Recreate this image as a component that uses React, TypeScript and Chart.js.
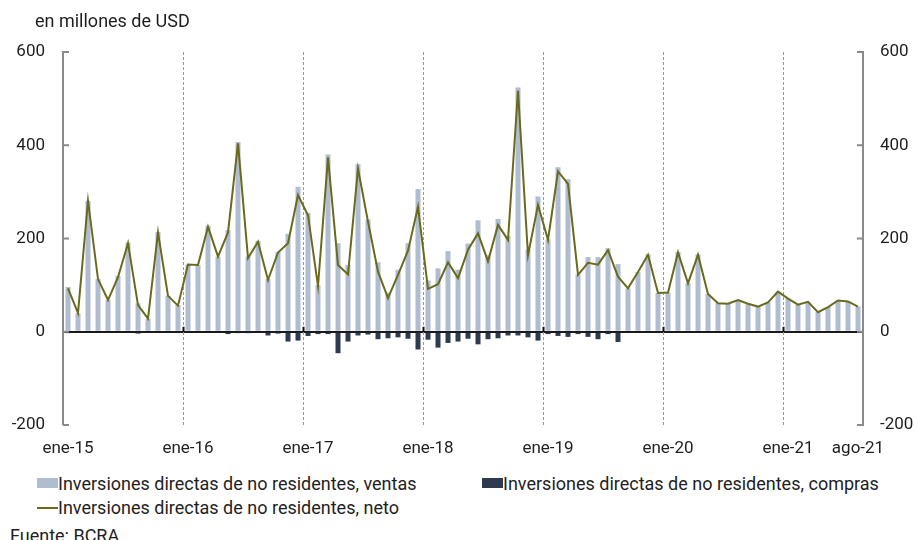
import React, { useEffect, useRef } from "react";
import { Chart, registerables } from "chart.js";

Chart.register(...registerables);

const months = ["ene", "feb", "mar", "abr", "may", "jun", "jul", "ago", "sep", "oct", "nov", "dic"];
const years = ["15", "16", "17", "18", "19", "20", "21"];
const monthCount = 80;

const ventas = [
  96, 40, 281, 113, 68, 120, 191, 61, 28, 214, 77, 57,
  144, 143, 227, 161, 218, 407, 161, 195, 113, 171, 210, 311,
  255, 100, 380, 190, 143, 359, 241, 149, 84, 133, 190, 306,
  110, 136, 173, 133, 189, 239, 164, 242, 205, 524, 176, 290,
  198, 353, 327, 123, 160, 160, 179, 145, 93, 128, 166, 83,
  84, 171, 104, 166, 81, 61, 60, 68, 60, 54, 63, 86,
  71, 58, 64, 42, 53, 67, 65, 54,
];

const compras = [
  -3, 0, 0, 0, 0, 0, 0, -4, 0, 0, 0, 0,
  0, 0, -2, 0, -5, -3, -3, -2, -8, -4, -21, -19,
  -9, -5, -5, -46, -21, -8, -6, -16, -14, -12, -15, -38,
  -17, -34, -24, -21, -15, -27, -16, -14, -8, -8, -12, -19,
  -5, -9, -11, -5, -11, -16, -5, -22, 0, 0, 0, 0,
  0, 0, 0, 0, 0, 0, 0, 0, 0, 0, 0, 0,
  0, 0, 0, 0, 0, 0, 0, 0,
];

const neto = [
  93, 40, 281, 113, 68, 117, 190, 57, 28, 213, 77, 56,
  144, 143, 225, 161, 213, 404, 158, 193, 111, 170, 190, 293,
  250, 98, 374, 143, 123, 350, 236, 129, 72, 122, 174, 268,
  92, 102, 149, 115, 176, 211, 151, 229, 197, 517, 164, 272,
  197, 344, 317, 122, 148, 144, 175, 118, 93, 128, 165, 83,
  84, 170, 104, 165, 81, 61, 60, 68, 60, 54, 63, 86,
  71, 58, 64, 42, 53, 67, 65, 54,
];

const yTicks = [-200, 0, 200, 400, 600];

const labels: string[] = [];
for (const y of years) for (const m of months) labels.push(`${m}-${y}`);
labels.length = monthCount;

const COL_VENTAS = "#b0bcd0";
const COL_COMPRAS = "#2e3a50";
const COL_NETO = "#6a6a1f";
const TEXT = "#1e1e1e";
const AXIS = "#8a8a8a";
const FONT = "Roboto";

const decorPlugin = {
  id: "decor",
  beforeDatasetsDraw(chart: any) {
    const { ctx, chartArea, scales } = chart;
    const xs = scales.x;
    ctx.save();
    ctx.strokeStyle = "#9a9a9a";
    ctx.lineWidth = 1;
    ctx.setLineDash([3, 2]);
    for (let i = 12; i < labels.length; i += 12) {
      const x = Math.round((xs.getPixelForValue(i - 1) + xs.getPixelForValue(i)) / 2) + 0.5;
      ctx.beginPath();
      ctx.moveTo(x, chartArea.top);
      ctx.lineTo(x, chartArea.bottom);
      ctx.stroke();
    }
    ctx.restore();
  },
  afterDraw(chart: any) {
    const { ctx, chartArea, scales } = chart;
    const ys = scales.y;
    const xs = scales.x;
    ctx.save();
    ctx.strokeStyle = AXIS;
    ctx.lineWidth = 2;
    for (const v of yTicks) {
      const y = ys.getPixelForValue(v);
      ctx.beginPath();
      ctx.moveTo(chartArea.left, y);
      ctx.lineTo(chartArea.left + 6, y);
      ctx.moveTo(chartArea.right, y);
      ctx.lineTo(chartArea.right - 6, y);
      ctx.stroke();
    }
    const y0 = ys.getPixelForValue(0);
    ctx.strokeStyle = "#111";
    ctx.lineWidth = 2;
    for (let i = 12; i < labels.length; i += 12) {
      const x = Math.round((xs.getPixelForValue(i - 1) + xs.getPixelForValue(i)) / 2) + 0.5;
      ctx.beginPath();
      ctx.moveTo(x, y0);
      ctx.lineTo(x, y0 - 5);
      ctx.stroke();
    }
    ctx.restore();
  },
};

function ChartCanvas() {
  const ref = useRef<HTMLCanvasElement | null>(null);
  useEffect(() => {
    if (!ref.current) return;
    const chart = new Chart(ref.current, {
      type: "bar",
      data: {
        labels,
        datasets: [
          {
            type: "line",
            label: "Inversiones directas de no residentes, neto",
            data: neto,
            borderColor: COL_NETO,
            backgroundColor: COL_NETO,
            borderWidth: 2,
            pointRadius: 0,
            tension: 0,
            order: 0,
          } as any,
          {
            label: "Inversiones directas de no residentes, ventas",
            data: ventas,
            backgroundColor: COL_VENTAS,
            grouped: false,
            barPercentage: 0.5,
            categoryPercentage: 1,
            order: 2,
          } as any,
          {
            label: "Inversiones directas de no residentes, compras",
            data: compras,
            backgroundColor: COL_COMPRAS,
            grouped: false,
            barPercentage: 0.5,
            categoryPercentage: 1,
            order: 1,
          } as any,
        ],
      },
      options: {
        animation: false,
        responsive: false,
        maintainAspectRatio: false,
        layout: { padding: { top: 52, bottom: 0, left: 0, right: 0 } },
        plugins: { legend: { display: false }, tooltip: { enabled: false } },
        scales: {
          x: {
            type: "category",
            offset: true,
            grid: { display: false },
            border: { display: false },
            ticks: {
              autoSkip: false,
              maxRotation: 0,
              minRotation: 0,
              padding: 6,
              color: TEXT,
              font: { family: FONT, size: 17 },
              callback: (_v: any, i: number) => (i % 12 === 0 || i === labels.length - 1 ? labels[i] : ""),
            },
            afterFit: (s: any) => {
              s.height = 35;
            },
          },
          y: {
            position: "left",
            min: -200,
            max: 600,
            ticks: { stepSize: 200, padding: 18, color: TEXT, font: { family: FONT, size: 17 } },
            grid: {
              drawTicks: false,
              color: (c: any) => (c.tick && c.tick.value === 0 ? "#1a1a1a" : "transparent"),
              lineWidth: (c: any) => (c.tick && c.tick.value === 0 ? 2 : 0),
            },
            border: { display: true, color: AXIS, width: 2 },
            afterFit: (s: any) => {
              s.width = 63;
            },
          },
          y2: {
            position: "right",
            min: -200,
            max: 600,
            ticks: { stepSize: 200, padding: 17, color: TEXT, font: { family: FONT, size: 17 } },
            grid: { display: false, drawTicks: false },
            border: { display: true, color: AXIS, width: 2 },
            afterFit: (s: any) => {
              s.width = 53;
            },
          },
        },
      } as any,
      plugins: [decorPlugin],
    });
    return () => chart.destroy();
  }, []);
  return <canvas ref={ref} width={916} height={460} style={{ display: "block", width: 916, height: 460 }} />;
}

export default function App() {
  const txt: React.CSSProperties = {
    position: "absolute",
    fontFamily: FONT,
    color: TEXT,
    whiteSpace: "nowrap",
    lineHeight: "20px",
    fontSize: 18,
  };
  return (
    <div
      style={{
        position: "fixed",
        left: 0,
        top: 0,
        width: 916,
        height: 540,
        background: "#fff",
        overflow: "hidden",
      }}
    >
      <div style={{ position: "absolute", left: 0, top: 0 }}>
        <ChartCanvas />
      </div>
      <div style={{ ...txt, left: 35, top: 11 }}>en millones de USD</div>
      <div style={{ position: "absolute", left: 37, top: 478, width: 21, height: 10, background: COL_VENTAS }} />
      <div style={{ ...txt, left: 58, top: 474 }}>Inversiones directas de no residentes, ventas</div>
      <div style={{ position: "absolute", left: 482, top: 478, width: 21, height: 10, background: COL_COMPRAS }} />
      <div style={{ ...txt, left: 503, top: 474 }}>Inversiones directas de no residentes, compras</div>
      <div style={{ position: "absolute", left: 37, top: 507, width: 21, height: 2, background: COL_NETO }} />
      <div style={{ ...txt, left: 58, top: 498 }}>Inversiones directas de no residentes, neto</div>
      <div style={{ ...txt, left: 10, top: 526 }}>Fuente: BCRA</div>
    </div>
  );
}
